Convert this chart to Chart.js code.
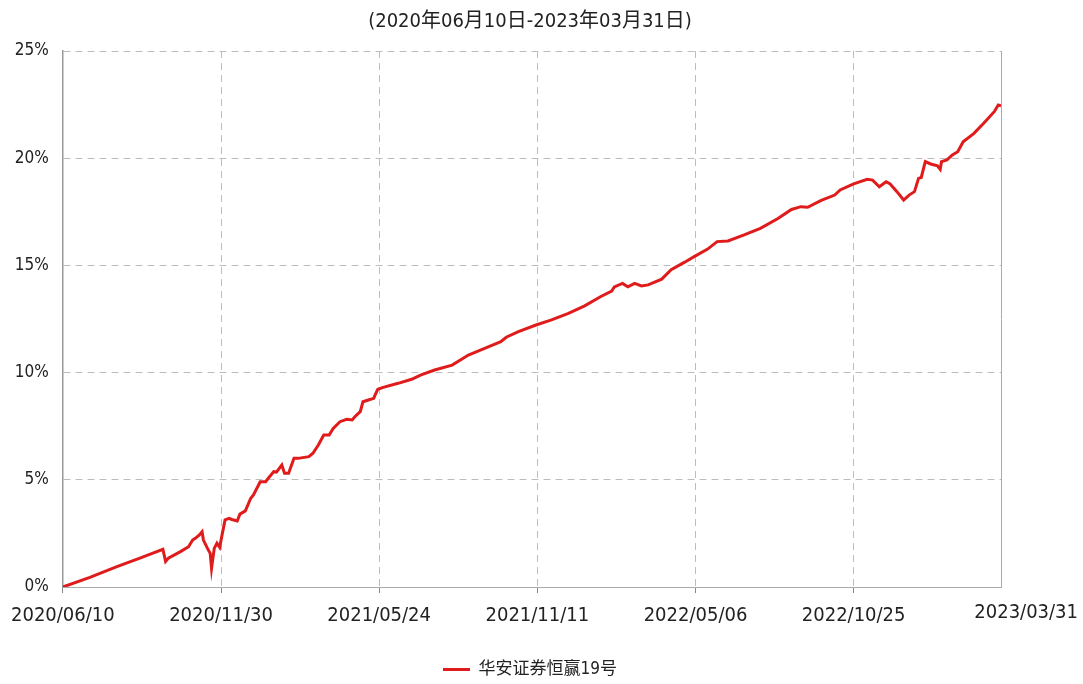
<!DOCTYPE html>
<html>
<head>
<meta charset="utf-8">
<script src="https://cdn.jsdelivr.net/npm/chart.js@4/dist/chart.umd.min.js"></script>
<style>
  html, body { margin: 0; padding: 0; background: #fff; }
  #wrap { width: 1083px; height: 684px; }
</style>
</head>
<body>
<div id="wrap"><canvas id="nav-chart"></canvas></div>
<script>
// x positions are trading-day counts from 2020/06/10
const dateLabels = ['2020/06/10', '2020/11/30', '2021/05/24', '2021/11/11', '2022/05/06', '2022/10/25', '2023/03/31'];
const tickDays = [0, 117, 234, 351, 468, 585, 694];
const yTicks = [0, 5, 10, 15, 20, 25];

const dayIndex = [0, 20, 40, 57, 74, 76, 78, 87, 93, 96, 98, 101, 103, 104, 107, 109, 110, 112, 114, 116,
  118, 120, 123, 125, 129, 131, 135, 139, 141, 146, 150, 152, 156, 158, 162, 164, 167, 171, 174, 182,
  185, 189, 193, 197, 200, 205, 210, 214, 216, 220, 222, 226, 230, 231, 233, 237, 248, 258, 265, 275,
  288, 300, 312, 324, 328, 337, 350, 361, 374, 386, 398, 406, 408, 414, 418, 423, 428, 433, 443, 450,
  460, 467, 477, 484, 492, 504, 516, 529, 539, 546, 551, 561, 571, 575, 585, 595, 599, 604, 609, 612,
  617, 622, 626, 630, 633, 635, 638, 642, 647, 649, 650, 654, 658, 662, 666, 674, 681, 689, 692, 694];

const returnPct = [0.00, 0.45, 0.95, 1.35, 1.76, 1.19, 1.34, 1.65, 1.88, 2.19, 2.27, 2.43, 2.58, 2.19, 1.80, 1.57, 0.87, 1.80, 2.04, 1.85,
  2.50, 3.13, 3.20, 3.15, 3.08, 3.40, 3.55, 4.14, 4.29, 4.91, 4.91, 5.07, 5.38, 5.36, 5.69, 5.30, 5.30, 6.00, 6.00, 6.08,
  6.24, 6.62, 7.09, 7.09, 7.40, 7.71, 7.82, 7.79, 7.94, 8.18, 8.64, 8.72, 8.80, 8.96, 9.22, 9.31, 9.50, 9.69, 9.89, 10.12,
  10.35, 10.82, 11.13, 11.44, 11.65, 11.91, 12.22, 12.45, 12.76, 13.11, 13.55, 13.80, 14.00, 14.16, 14.00, 14.16, 14.04, 14.09, 14.36, 14.80,
  15.15, 15.41, 15.76, 16.11, 16.14, 16.42, 16.73, 17.19, 17.61, 17.74, 17.71, 18.03, 18.28, 18.52, 18.80, 19.02, 18.98, 18.67, 18.90, 18.80,
  18.44, 18.05, 18.28, 18.44, 19.06, 19.10, 19.84, 19.73, 19.64, 19.48, 19.84, 19.92, 20.15, 20.30, 20.77, 21.16, 21.62, 22.17, 22.48, 22.45];

const seriesName = '华安证券恒赢19号';
const titleText = '(2020年06月10日-2023年03月31日)';

const FONT = "'DejaVu Sans', 'Noto Sans CJK SC', sans-serif";
// 'condensed' goes into the font shorthand through the weight slot
const NARROW = 'condensed';
const GRID = '#bdbdbd';
const TEXT = '#222222';

document.addEventListener('DOMContentLoaded', function() {
    drawChart();
});

/**
 * Last date label sits past the plot edge, so draw it by hand
 */
const lastLabelPlugin = {
    id: 'lastLabel',
    afterDraw(chart) {
        const ctx = chart.ctx;
        const xs = chart.scales.x;
        ctx.save();
        ctx.font = NARROW + ' 20px ' + FONT;
        ctx.fillStyle = TEXT;
        ctx.textAlign = 'right';
        ctx.textBaseline = 'middle';
        ctx.fillText(dateLabels[dateLabels.length - 1], chart.width - 5, xs.top + 26);
        ctx.restore();
    }
};

function drawChart() {
    const canvas = document.getElementById('nav-chart');
    const points = dayIndex.map((d, i) => ({ x: d, y: returnPct[i] }));

    new Chart(canvas, {
        type: 'line',
        data: {
            datasets: [{
                label: seriesName,
                data: points,
                borderColor: '#e01b1b',
                backgroundColor: '#e01b1b',
                borderWidth: 3,
                pointRadius: 0,
                tension: 0,
                fill: false
            }]
        },
        options: {
            responsive: true,
            maintainAspectRatio: false,
            animation: false,
            layout: { padding: { left: 0, right: 23, top: 0, bottom: -4 } },
            plugins: {
                title: {
                    display: true,
                    text: titleText,
                    color: TEXT,
                    font: { family: FONT, size: 20, weight: NARROW },
                    padding: { top: 10, bottom: 17 }
                },
                legend: {
                    position: 'bottom',
                    labels: {
                        usePointStyle: true,
                        pointStyle: 'line',
                        pointStyleWidth: 27,
                        boxHeight: 10,
                        color: TEXT,
                        font: { family: FONT, size: 17, weight: NARROW },
                        padding: 7
                    }
                },
                tooltip: { enabled: false }
            },
            scales: {
                x: {
                    type: 'linear',
                    min: tickDays[0],
                    max: tickDays[tickDays.length - 1],
                    afterBuildTicks: function(scale) {
                        scale.ticks = tickDays.slice(0, -1).map(v => ({ value: v }));
                    },
                    afterFit: function(scale) { scale.height = 67; },
                    ticks: {
                        autoSkip: false,
                        maxRotation: 0,
                        padding: 11,
                        color: TEXT,
                        font: { family: FONT, size: 20, weight: NARROW },
                        callback: function(value) {
                            const i = tickDays.indexOf(value);
                            return i >= 0 ? dateLabels[i] : '';
                        }
                    },
                    grid: {
                        color: GRID,
                        tickLength: 6,
                        tickColor: '#888',
                        tickBorderDash: []
                    },
                    border: { display: true, color: '#aaa', width: 1, dash: [7, 5] }
                },
                y: {
                    min: 0,
                    max: 25,
                    afterBuildTicks: function(scale) {
                        scale.ticks = yTicks.map(v => ({ value: v }));
                    },
                    afterFit: function(scale) { scale.width = 60; },
                    ticks: {
                        padding: 14,
                        color: TEXT,
                        font: { family: FONT, size: 17, weight: NARROW },
                        callback: v => v + '%'
                    },
                    grid: {
                        color: GRID,
                        drawTicks: false
                    },
                    border: { display: true, color: '#999', width: 1.5, dash: [7, 5] }
                },
                yRight: {
                    position: 'right',
                    min: 0,
                    max: 25,
                    ticks: { display: false },
                    grid: { display: false },
                    afterFit: function(scale) { scale.width = 59; },
                    border: { display: true, color: '#aaa', width: 1 }
                }
            }
        },
        plugins: [lastLabelPlugin]
    });
}
</script>
</body>
</html>
